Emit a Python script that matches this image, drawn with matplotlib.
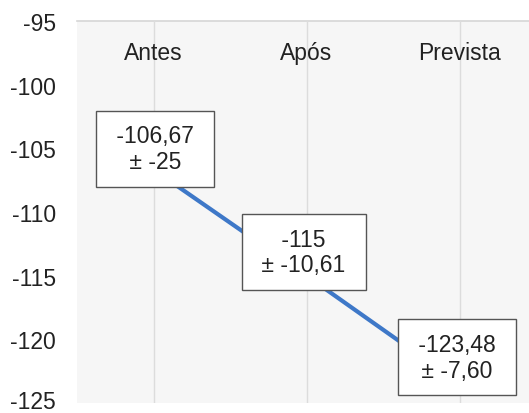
import matplotlib
matplotlib.use("Agg")
import matplotlib.pyplot as plt
from matplotlib.transforms import blended_transform_factory, ScaledTranslation

categories = ["Antes", "Após", "Prevista"]
values = [-106.67, -115.0, -123.48]
errors = ["-25", "-10,61", "-7,60"]
value_labels = ["-106,67", "-115", "-123,48"]
yticks = [-125, -120, -115, -110, -105, -100, -95]

plt.rcParams['font.family'] = ['Liberation Sans', 'DejaVu Sans']
FS = 16.5

fig = plt.figure(figsize=(5.29, 4.14), dpi=100)
ax = fig.add_axes([77/529, (414-404)/414, 459/529, (404-22)/414])
ax.set_xlim(-0.5, 2.5)
ax.set_ylim(-125, -95)
ax.set_facecolor('#f6f6f6')
for s in ax.spines.values():
    s.set_visible(False)
ax.axhline(-95, color='#d6d6d6', lw=1.2, zorder=1, clip_on=False)
x = list(range(len(categories)))
for xi in x:
    ax.axvline(xi, color='#dcdcdc', lw=1.0, zorder=1)

ax.plot(x, values, color='#3e78c8', lw=3, zorder=2, solid_capstyle='butt')

ax.set_yticks(yticks)
ax.set_yticklabels([str(t) for t in yticks], fontsize=FS, color='#222222')
ax.tick_params(axis='y', length=0, pad=15)
ax.set_xticks([])
# nudge the bottom tick label up slightly so it stays fully inside the figure
lab = ax.get_yticklabels()[0]
lab.set_transform(lab.get_transform() + ScaledTranslation(0, 3/72, fig.dpi_scale_trans))

trans = blended_transform_factory(ax.transData, ax.transAxes)
for xi, c in zip(x, categories):
    ax.text(xi, 0.918, c, transform=trans, ha='center', va='center', fontsize=FS, color='#222222')

offsets = [(1, 15), (-2, 17), (-2, 19)]
for xi, v, vl, e, off in zip(x, values, value_labels, errors, offsets):
    ax.annotate(f" {vl} \n ± {e} ", xy=(xi, v), xytext=off, textcoords='offset points',
                ha='center', va='center', fontsize=FS, color='#222222', linespacing=1.15,
                multialignment='center',
                bbox=dict(boxstyle='square,pad=0.6', fc='white', ec='#555555', lw=1.0),
                zorder=3)

fig.savefig("out.png", dpi=100)
